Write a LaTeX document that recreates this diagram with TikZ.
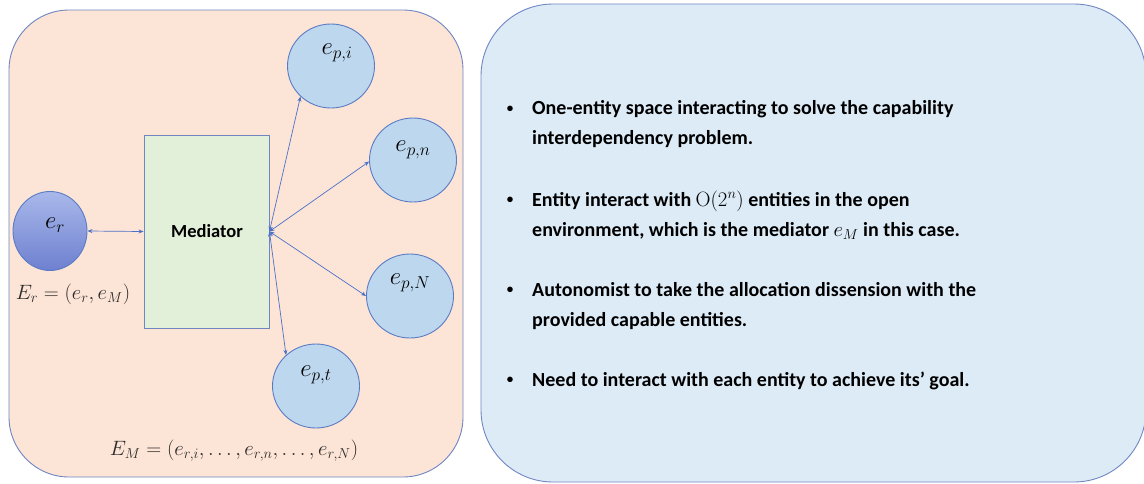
\documentclass[tikz,border=0pt]{standalone}
\usepackage[no-math]{fontspec}
\setmainfont{Carlito}
\usetikzlibrary{shapes.geometric,arrows.meta}

\definecolor{peach}{HTML}{FCE4D6}
\definecolor{paleblue}{HTML}{DDEBF7}
\definecolor{framecol}{HTML}{6F86C2}
\definecolor{entityfill}{HTML}{BDD7EE}
\definecolor{entityline}{HTML}{5A7CC4}
\definecolor{mediatorfill}{HTML}{E2F0D9}
\definecolor{linkcol}{HTML}{4A72C8}
\definecolor{eqcol}{HTML}{2A2A2A}
\definecolor{ertop}{HTML}{A9B8EA}
\definecolor{erbottom}{HTML}{6E80D0}

\tikzset{
  panel/.style={draw=framecol, line width=0.9pt, rounded corners=#1},
  entity/.style={ellipse, draw=entityline, line width=0.9pt, fill=entityfill,
    minimum width=87pt, minimum height=84pt, inner sep=0pt},
  elabel/.style={inner sep=0pt, font=\fontsize{27}{30}\selectfont},
  link/.style={draw=linkcol, line width=0.7pt,
    {Stealth[length=5pt,width=4pt]}-{Stealth[length=5pt,width=4pt]}},
  bullettext/.style={anchor=west, inner sep=0pt, align=left,
    font=\fontsize{20}{30}\selectfont\bfseries},
  bulletdot/.style={inner sep=0pt, font=\fontsize{13}{15}\selectfont\bfseries},
}

\begin{document}
\begin{tikzpicture}[x=1pt, y=-1pt]
  \useasboundingbox (0,0) rectangle (1144,483);
  \clip (0,0) rectangle (1144,483);

  % the two panels
  \path[panel=60pt, fill=peach] (9,10) rectangle (463,477);
  \path[panel=72pt, fill=paleblue] (481,4) rectangle (1146,482);

  % requester and mediator
  \node[ellipse, draw=entityline, line width=0.9pt, top color=ertop, bottom color=erbottom,
        minimum width=74pt, minimum height=79pt, inner sep=0pt] (er) at (50,231) {};
  \node[elabel] (ertxt) at ([xshift=5pt,yshift=6pt]er.center) {$e_r$};

  \node[draw=framecol, line width=0.9pt, fill=mediatorfill, minimum width=125pt, minimum height=193pt,
        inner sep=0pt] (med) at (206.5,231.5) {};
  \node[inner sep=0pt, font=\fontsize{18.5}{20}\selectfont\bfseries] (medtxt) at (207,231) {Mediator};

  % provider entities
  \node[entity] (pi) at (331,66) {};
  \node[entity] (pn) at (413,160) {};
  \node[entity] (pN) at (410,296) {};
  \node[entity] (pt) at (316,386) {};
  \node[elabel] (pitxt) at ([xshift=6pt,yshift=13pt]pi.center) {$e_{p,i}$};
  \node[elabel] (pntxt) at ([yshift=10pt]pn.center) {$e_{p,n}$};
  \node[elabel] (pNtxt) at ([yshift=13pt]pN.center) {$e_{p,N}$};
  \node[elabel] (pttxt) at ([yshift=11pt]pt.center) {$e_{p,t}$};

  % links
  \draw[link] (er.east) -- (med.west);
  \draw[link] (med.east) -- (pi.225);
  \draw[link] (med.east) -- (pn.182);
  \draw[link] (med.east) -- (pN.180);
  \draw[link] (med.east) -- (pt.134);

  % tuples
  \node[inner sep=0pt, text=eqcol, font=\fontsize{21.5}{24}\selectfont] (Er) at (73,294) {$E_r=(e_r,e_M)$};
  \node[inner sep=0pt, text=eqcol, font=\fontsize{21.5}{24}\selectfont] (EM) at (234,451)
    {$E_M=(e_{r,i},\ldots,e_{r,n},\ldots,e_{r,N})$};

  % bullet list
  \node[bulletdot] (d1) at (510,109) {•};
  \node[bulletdot] (d2) at (510,200) {•};
  \node[bulletdot] (d3) at (510,290) {•};
  \node[bulletdot] (d4) at (510,380) {•};
  \node[bullettext] (t1) at (532,124) {One-entity space interacting to solve the capability\\interdependency problem.};
  \node[bullettext] (t2) at (532,215) {Entity interact with $\mathrm{O}(2^n)$ entities in the open\\environment, which is the mediator $e_M$ in this case.};
  \node[bullettext] (t3) at (532,306) {Autonomist to take the allocation dissension with the\\provided capable entities.};
  \node[bullettext] (t4) at (532,381) {Need to interact with each entity to achieve its’ goal.};
\end{tikzpicture}
\end{document}
